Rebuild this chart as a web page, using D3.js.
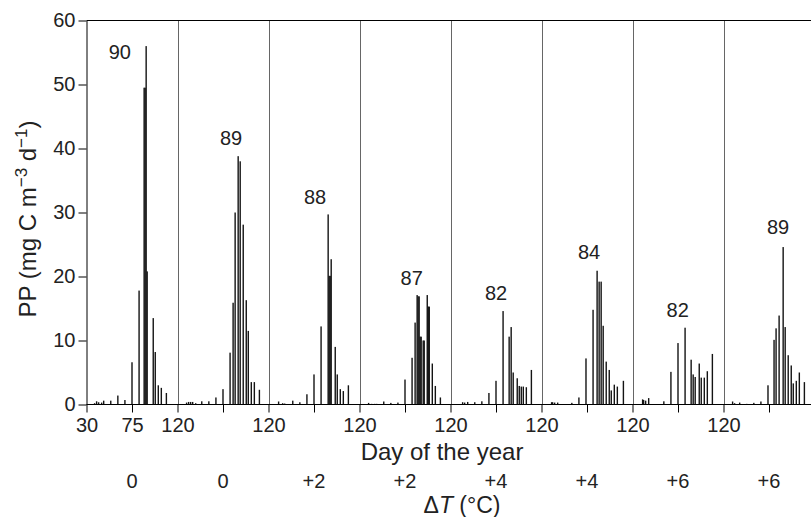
<!DOCTYPE html>
<html>
<head>
<meta charset="utf-8">
<script src="https://cdn.jsdelivr.net/npm/d3@7"></script>
<style>
  body { margin: 0; background: #fff; }
  text { font-family: "Liberation Sans", Arial, Helvetica, sans-serif; }
</style>
</head>
<body>
<div id="chart"></div>
<script>
// Data: one panel per run, bars are [day of year, PP]
const deltaT = ["0", "0", "+2", "+2", "+4", "+4", "+6", "+6"];
const peakLabels = ["90", "89", "88", "87", "82", "84", "82", "89"];
// where each number sits, in [day, PP] units
const peakLabelAt = [[63, 54], [83, 40.6], [76, 31.3], [81.6, 18.6], [75, 16.4], [77, 22.7], [74.7, 13.6], [84, 26.6]];

const run1 = [[38, 0.2], [40, 0.5], [42, 0.35], [45, 0.3], [47, 0.6], [54, 0.6], [61, 1.4], [68, 0.7],
  [75, 6.6], [82, 17.8], [87, 49.5], [88, 49.5], [89, 56], [90, 20.8], [96, 13.5], [98, 8.2],
  [101, 3.0], [104, 2.6], [109, 1.8]];
const run2 = [[39, 0.3], [41, 0.4], [43, 0.4], [45, 0.4], [48, 0.2], [54, 0.5], [61, 0.5], [68, 1.1],
  [75, 2.4], [82, 8.1], [85, 15.9], [87, 30], [90, 38.8], [92, 38], [95, 28.1], [98, 16.3],
  [100, 11.5], [103, 3.5], [106, 3.5], [111, 2.3]];
const run3 = [[40, 0.47], [44, 0.2], [46, 0.15], [54, 0.6], [61, 0.35], [68, 1.6], [75, 4.7], [82, 12.2],
  [89, 29.7], [90, 20.1], [91, 20.1], [92, 22.7], [96, 9.0], [98, 4.7], [101, 2.4], [104, 2.1], [109, 3.0]];
const run4 = [[39, 0.25], [42, 0.1], [45, 0.1], [47, 0.1], [54, 0.47], [61, 0.25], [68, 0.3], [75, 3.9],
  [82, 7.3], [85, 12.8], [87, 17.1], [88, 16.9], [89, 16.9], [90, 10.6], [91, 10.6], [93, 10.0],
  [94, 10.0], [97, 17.1], [98, 15.3], [99, 15.3], [102, 6.4], [105, 2.9], [110, 1.1]];
const run5 = [[42, 0.36], [44, 0.3], [47, 0.4], [54, 0.36], [61, 0.5], [68, 1.8], [75, 3.7], [82, 14.6],
  [88, 10.6], [90, 12.1], [92, 5.0], [96, 4.1], [98, 2.9], [100, 2.8], [102, 2.8], [105, 2.7], [110, 5.4]];
const run6 = [[40, 0.36], [41, 0.36], [43, 0.3], [46, 0.3], [53, 0.05], [60, 0.26], [67, 1.1], [74, 7.2],
  [81, 14.8], [85, 20.9], [87, 19.2], [89, 19.2], [91, 12.3], [94, 6.7], [97, 5.4], [99, 2.2],
  [102, 3.1], [105, 2.8], [111, 3.7]];
const run7 = [[40, 0.8], [41, 0.7], [43, 0.6], [46, 1.0], [61, 0.5], [68, 5.1], [75, 9.6], [82, 12.0],
  [88, 7.0], [90, 4.7], [92, 4.3], [96, 6.4], [98, 4.2], [101, 4.2], [104, 5.2], [109, 7.9]];
const run8 = [[39, 0.47], [41, 0.2], [46, 0.3], [53, 0.1], [60, 0.26], [67, 0.47], [74, 3.0], [80, 10.1],
  [82, 11.9], [85, 13.9], [89, 24.6], [91, 12.1], [94, 7.7], [97, 6.1], [99, 3.3], [102, 3.7],
  [105, 5.0], [110, 3.5]];
const runs = [run1, run2, run3, run4, run5, run6, run7, run8];

const yTicks = [0, 10, 20, 30, 40, 50, 60];
const dayStart = 30, dayEnd = 120, dayMid = 75;
const span = dayEnd - dayStart;

const width = 811, height = 517;
const svg = d3.select("#chart").append("svg")
    .attr("width", width)
    .attr("height", height);

// one long x axis, each run takes a 90-day slot
const x = d3.scaleLinear().domain([0, span * runs.length]).range([86.5, 814.5]);
const y = d3.scaleLinear().domain([0, 60]).range([404.5, 20.5]);
const dayX = (run, day) => x(run * span + day - dayStart);

// panel separators (grey)
svg.append("g").selectAll("line")
    .data(d3.range(1, runs.length))
    .join("line")
    .attr("x1", d => Math.round(x(d * span)) + 0.5)
    .attr("x2", d => Math.round(x(d * span)) + 0.5)
    .attr("y1", y(60))
    .attr("y2", y(0))
    .attr("stroke", "#666")
    .attr("stroke-width", 1);

// top border
svg.append("line")
    .attr("x1", x(0)).attr("x2", width)
    .attr("y1", y(60)).attr("y2", y(60))
    .attr("stroke", "#000");

// bars
runs.forEach((bars, i) => {
  svg.append("g").selectAll("rect")
      .data(bars)
      .join("rect")
      .attr("x", d => dayX(i, d[0]) - 0.7)
      .attr("width", 1.4)
      .attr("y", d => y(d[1]))
      .attr("height", d => y(0) - y(d[1]))
      .attr("fill", "#141414");
});

// numbers above each peak
svg.append("g").selectAll("text")
    .data(peakLabels)
    .join("text")
    .attr("x", (d, i) => dayX(i, peakLabelAt[i][0]))
    .attr("y", (d, i) => y(peakLabelAt[i][1]))
    .attr("text-anchor", "middle")
    .attr("font-size", 20)
    .attr("fill", "#222")
    .text(d => d);

// x axis
const xTickVals = [];
runs.forEach((r, i) => { xTickVals.push(i * span, i * span + (dayMid - dayStart)); });
const xAxis = d3.axisBottom(x)
    .tickValues(xTickVals)
    .tickSize(8)
    .tickSizeOuter(0)
    .tickPadding(5)
    .tickFormat(v => v === 0 ? String(dayStart) : v === dayMid - dayStart ? String(dayMid) : v % span === 0 ? String(dayEnd) : "");

const gx = svg.append("g")
    .attr("transform", `translate(0,${y(0)})`)
    .call(xAxis);
gx.select(".domain").attr("d", `M${x(0)},0H${width}`);

// y axis
const gy = svg.append("g")
    .attr("transform", `translate(${x(0)},0)`)
    .call(d3.axisLeft(y).tickValues(yTicks).tickSize(8).tickSizeOuter(0).tickPadding(3));

svg.selectAll(".tick text").attr("font-size", 20).attr("fill", "#222")
    .style("font-family", '"Liberation Sans", Arial, sans-serif');

// axis titles
svg.append("text")
    .attr("x", 442).attr("y", 460)
    .attr("text-anchor", "middle")
    .attr("font-size", 24)
    .attr("fill", "#222")
    .text("Day of the year");

svg.append("g").selectAll("text")
    .data(deltaT)
    .join("text")
    .attr("x", (d, i) => dayX(i, dayMid))
    .attr("y", 488)
    .attr("text-anchor", "middle")
    .attr("font-size", 20)
    .attr("fill", "#222")
    .text(d => d);

const dt = svg.append("text")
    .attr("x", 462).attr("y", 513)
    .attr("text-anchor", "middle")
    .attr("font-size", 23)
    .attr("fill", "#222");
dt.append("tspan").text("Δ");
dt.append("tspan").attr("font-style", "italic").text("T");
dt.append("tspan").text(" (°C)");

const yt = svg.append("text")
    .attr("transform", "translate(36,219) rotate(-90)")
    .attr("text-anchor", "middle")
    .attr("font-size", 24)
    .attr("fill", "#222");
yt.append("tspan").text("PP (mg C m");
yt.append("tspan").attr("font-size", 17).attr("dy", -9).text("−3");
yt.append("tspan").attr("dy", 9).text(" d");
yt.append("tspan").attr("font-size", 17).attr("dy", -9).text("−1");
yt.append("tspan").attr("dy", 9).text(")");
</script>
</body>
</html>
